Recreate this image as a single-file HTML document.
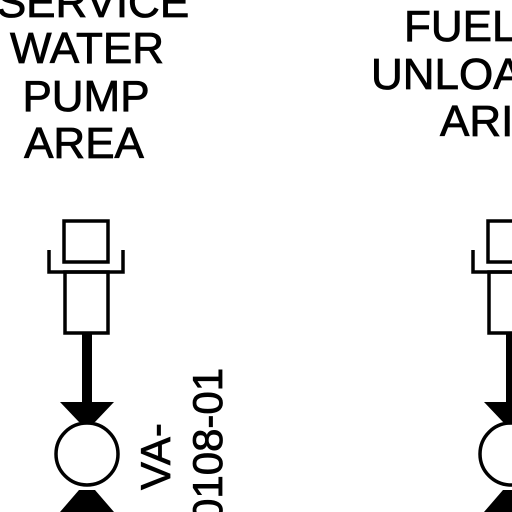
<!DOCTYPE html>
<html><head><meta charset="utf-8"><style>
html,body{margin:0;padding:0;background:#fff;}
svg{display:block;}
text{font-family:"Liberation Sans",Arial,sans-serif;font-size:44px;fill:#000;stroke:#000;stroke-width:0.8;}
</style></head><body>
<svg width="512" height="512" viewBox="0 0 512 512">
<g>
<text x="93" y="17" text-anchor="middle">SERVICE</text>
<text x="87" y="63" text-anchor="middle">WATER</text>
<text x="86" y="111" text-anchor="middle">PUMP</text>
<text x="84" y="158" text-anchor="middle">AREA</text>
</g>
<g>
<text x="404" y="41">FUEL</text>
<text x="371" y="89">UNLOA</text>
<text x="440" y="136">ARI</text>
</g>
<g id="comp" fill="none" stroke="#000" stroke-width="3.5">
<rect x="64" y="221" width="44" height="41"/>
<polyline points="49,250 49,272 123,272 123,250"/>
<rect x="65" y="272" width="43" height="61"/>
<rect x="82" y="333" width="10" height="72" fill="#000" stroke="none"/>
<polygon points="60,402 114,402 95,422 79,422" fill="#000" stroke="none"/>
<polygon points="60,512 114,512 95,490 79,490" fill="#000" stroke="none"/>
<circle cx="87" cy="454" r="31" fill="#fff"/>
</g>
<use href="#comp" x="424" y="0"/>
<g>
<text transform="translate(170,490) rotate(-90)" style="font-size:42px">VA-</text>
<text transform="translate(222,522) rotate(-90)" style="font-size:42px">0108-01</text>
</g>
</svg>
</body></html>
